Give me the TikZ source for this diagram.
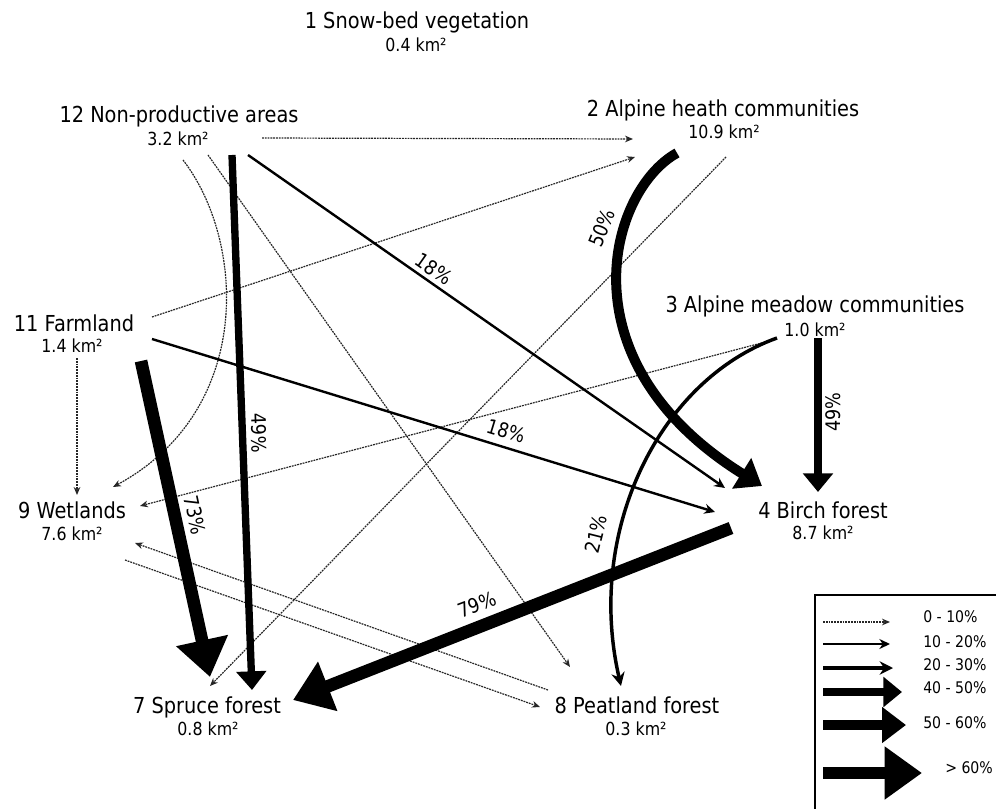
\documentclass[tikz,border=0pt]{standalone}
\usepackage{fontspec}
\setmainfont{DejaVu Sans}[FakeStretch=0.88]
\usetikzlibrary{arrows.meta}

\begin{document}
\begin{tikzpicture}[
    x=0.75pt, y=-0.75pt,
    every node/.style={inner sep=0pt},
    cls/.style={anchor=base, font=\fontsize{16.5}{18}\selectfont},
    area/.style={anchor=base, font=\fontsize{13.5}{15}\selectfont},
    pct/.style={font=\fontsize{15}{17}\selectfont},
    legtext/.style={anchor=west, font=\fontsize{12}{14}\selectfont},
    f0/.style={draw=black!85, line width=0.9pt, dash pattern=on 1.4pt off 0.7pt, -{Stealth[length=6pt, width=5pt]}},
    f10/.style={draw, line width=1.8pt, -{Stealth[length=8pt, width=7.5pt]}},
    f20/.style={draw, line width=2.6pt, -{Stealth[length=10pt, width=10pt]}},
    f40/.style={draw, line width=5.5pt, -{Triangle[length=14pt, width=22pt]}},
    f50/.style={draw, line width=7.5pt, -{Triangle[length=18pt, width=26pt]}},
    f60/.style={draw, line width=9.5pt, -{Triangle[length=28pt, width=38pt]}}
]
\useasboundingbox (0,0) rectangle (996,809);
\clip (0,0) rectangle (996,809);

\node[cls] (n1) at (417,29) {1 Snow-bed vegetation};
\node[area] (a1) at (416,52) {0.4 km²};
\node[cls] (n12) at (179,123) {12 Non-productive areas};
\node[area] (a12) at (178,146) {3.2 km²};
\node[cls] (n2) at (723,117) {2 Alpine heath communities};
\node[area] (a2) at (724,139) {10.9 km²};
\node[cls] (n3) at (815,313) {3 Alpine meadow communities};
\node[area] (a3) at (815,336) {1.0 km²};
\node[cls] (n11) at (74,332) {11 Farmland};
\node[area] (a11) at (72,353) {1.4 km²};
\node[cls] (n9) at (72,518) {9 Wetlands};
\node[area] (a9) at (72,540) {7.6 km²};
\node[cls] (n4) at (823,518) {4 Birch forest};
\node[area] (a4) at (823,539) {8.7 km²};
\node[cls] (n7) at (207,713) {7 Spruce forest};
\node[area] (a7) at (208,735) {0.8 km²};
\node[cls] (n8) at (637,713) {8 Peatland forest};
\node[area] (a8) at (636,735) {0.3 km²};

\coordinate (c12e) at (262,138);
\coordinate (c12s1) at (183,160);
\coordinate (c12s2) at (208,155);
\coordinate (c12s3) at (232,155);
\coordinate (c12s4) at (248,155);
\coordinate (c2w) at (633,139);
\coordinate (c2sw) at (635,157);
\coordinate (c2s1) at (677,153);
\coordinate (c2s2) at (726,157);
\coordinate (c3s1) at (777,338);
\coordinate (c3s2) at (818,338);
\coordinate (c3w) at (773,340);
\coordinate (c11ne) at (152,317);
\coordinate (c11e) at (152,339);
\coordinate (c11se) at (141,361);
\coordinate (c11s) at (77,358);
\coordinate (c9n) at (77,495);
\coordinate (c9ne) at (113,487);
\coordinate (c9e1) at (140,506);
\coordinate (c9e2) at (135,543);
\coordinate (c9se) at (125,560);
\coordinate (c4nw1) at (725,488);
\coordinate (c4nw2) at (762,486);
\coordinate (c4n) at (818,492);
\coordinate (c4w) at (715,512);
\coordinate (c4sw) at (731,528);
\coordinate (c7n1) at (210,677);
\coordinate (c7n2) at (210,686);
\coordinate (c7n3) at (252,690);
\coordinate (c7ne) at (293,700);
\coordinate (c8nw) at (570,667);
\coordinate (c8n) at (621,686);
\coordinate (c8w1) at (548,690);
\coordinate (c8w2) at (540,707);

\draw[f0] (c12e) -- (c2w);
\draw[f0] (c11ne) -- (c2sw);
\draw[f0] (c12s1) .. controls (245,240) and (255,410) .. (c9ne);
\draw[f0] (c12s2) -- (c8nw);
\draw[f0] (c2s2) -- (c7n2);
\draw[f0] (c3w) -- (c9e1);
\draw[f0] (c8w1) -- (c9e2);
\draw[f0] (c9se) -- (c8w2);
\draw[f0] (c11s) -- (c9n);

\draw[f10] (c12s4) -- (c4nw1);
\draw[f10] (c11e) -- (c4w);
\draw[f20] (c3s1) .. controls (660,380) and (585,530) .. (c8n);
\draw[f40] (c12s3) -- (c7n3);
\draw[f40] (c3s2) -- (c4n);
\draw[f50] (c2s1) .. controls (610,190) and (560,360) .. (c4nw2);
\draw[f60] (c11se) -- (c7n1);
\draw[f60] (c4sw) -- (c7ne);

\node[pct, rotate=-35] (p12to4) at (434,269) {18\%};
\node[pct, rotate=-17] (p11to4) at (506,431) {18\%};
\node[pct, rotate=-88] (p12to7) at (259,433) {49\%};
\node[pct, rotate=-78] (p11to7) at (195,515) {73\%};
\node[pct, rotate=21] (p4to7) at (477,605) {79\%};
\node[pct, rotate=68] (p2to4) at (602,228) {50\%};
\node[pct, rotate=90] (p3to4) at (833,412) {49\%};
\node[pct, rotate=76] (p3to8) at (596,534) {21\%};

\draw[line width=1.5pt] (815,595) rectangle (1005,820);
\coordinate (l1a) at (823,622); \coordinate (l1b) at (890,622);
\coordinate (l2a) at (823,644); \coordinate (l2b) at (890,644);
\coordinate (l3a) at (823,668); \coordinate (l3b) at (893,668);
\coordinate (l4a) at (823,692); \coordinate (l4b) at (902,692);
\coordinate (l5a) at (823,725); \coordinate (l5b) at (906,725);
\coordinate (l6a) at (823,773); \coordinate (l6b) at (922,773);
\draw[f0] (l1a) -- (l1b);
\draw[f10] (l2a) -- (l2b);
\draw[f20] (l3a) -- (l3b);
\draw[f40] (l4a) -- (l4b);
\draw[f50] (l5a) -- (l5b);
\draw[f60] (l6a) -- (l6b);
\node[legtext] (t1) at (923,617) {0 - 10\%};
\node[legtext] (t2) at (923,642) {10 - 20\%};
\node[legtext] (t3) at (923,665) {20 - 30\%};
\node[legtext] (t4) at (923,688) {40 - 50\%};
\node[legtext] (t5) at (923,723) {50 - 60\%};
\node[legtext] (t6) at (945,768) {> 60\%};
\end{tikzpicture}
\end{document}
